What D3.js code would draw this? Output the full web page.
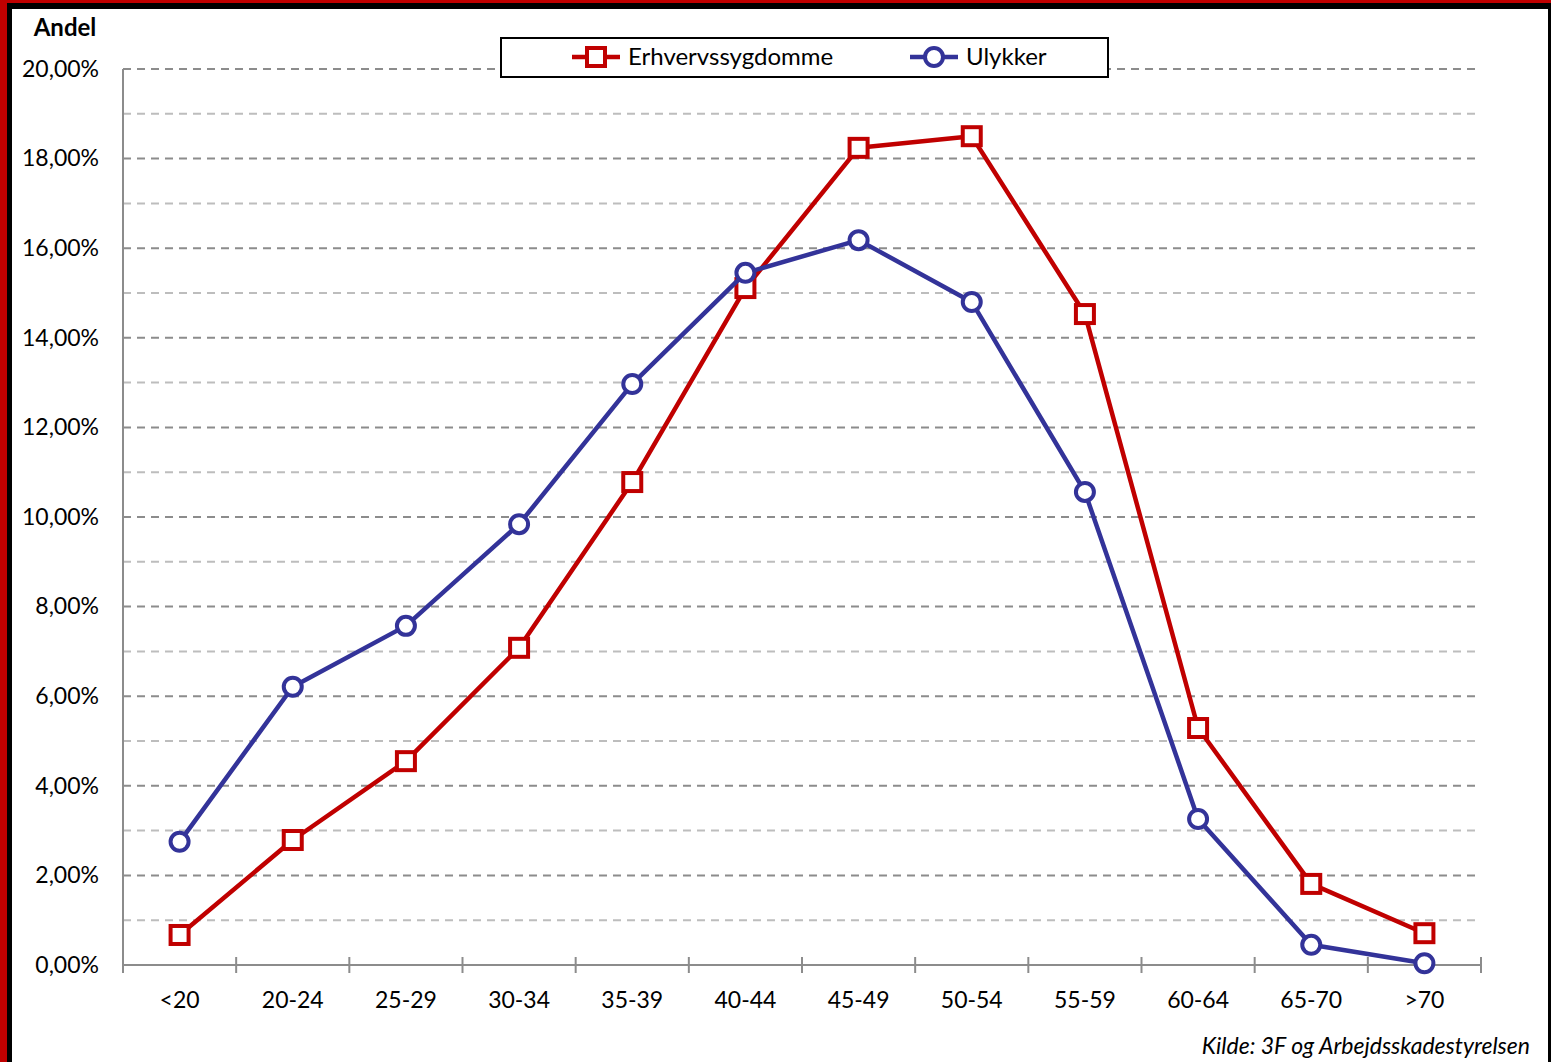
<!DOCTYPE html>
<html lang="da">
<head>
  <meta charset="UTF-8">
  <title>Andel fordelt på alder</title>
  <script src="https://d3js.org/d3.v7.min.js"></script>
  <style>
    body { margin: 0; background: #fff; }
    text { font-family: Lato, "Open Sans", sans-serif; fill: #000; }
  </style>
</head>
<body>
<svg width="1551" height="1062"></svg>
<script>
  const svg = d3.select("svg"),
        width = +svg.attr("width"),
        height = +svg.attr("height");

  // Age groups
  const categories = ["<20", "20-24", "25-29", "30-34", "35-39", "40-44", "45-49", "50-54", "55-59", "60-64", "65-70", ">70"];

  // Share per age group, in percent
  const erhvervssygdomme = [0.67, 2.79, 4.55, 7.08, 10.78, 15.11, 18.24, 18.50, 14.53, 5.29, 1.81, 0.71];
  const ulykker = [2.75, 6.21, 7.57, 9.84, 12.97, 15.45, 16.18, 14.80, 10.56, 3.26, 0.45, 0.04];

  const yTicks = [0, 2, 4, 6, 8, 10, 12, 14, 16, 18, 20];
  const minorTicks = [1, 3, 5, 7, 9, 11, 13, 15, 17, 19];

  const series = [
    { name: "Erhvervssygdomme", values: erhvervssygdomme, color: "#c00000", marker: "square" },
    { name: "Ulykker", values: ulykker, color: "#333399", marker: "circle" }
  ];

  // frame: red outer, black inner, white page
  svg.append("rect").attr("width", width).attr("height", height).attr("fill", "#c00000");
  svg.append("rect").attr("x", 7).attr("y", 3).attr("width", width - 7).attr("height", height).attr("fill", "#000");
  svg.append("rect").attr("x", 12).attr("y", 9).attr("width", 1548 - 12).attr("height", height).attr("fill", "#fff");

  const plot = { left: 123, right: 1481, top: 69, bottom: 965 };

  const x = d3.scaleBand().domain(categories).range([plot.left, plot.right]);
  const y = d3.scaleLinear().domain([0, 20]).range([plot.bottom, plot.top]);

  // gridlines
  svg.append("g").selectAll("line")
    .data(minorTicks)
    .enter().append("line")
      .attr("x1", plot.left).attr("x2", plot.right)
      .attr("y1", d => y(d)).attr("y2", d => y(d))
      .attr("stroke", "#bdbdbd").attr("stroke-width", 2)
      .attr("stroke-dasharray", "8,6");

  svg.append("g").selectAll("line")
    .data(yTicks.filter(d => d > 0))
    .enter().append("line")
      .attr("x1", plot.left).attr("x2", plot.right)
      .attr("y1", d => y(d)).attr("y2", d => y(d))
      .attr("stroke", "#8c8c8c").attr("stroke-width", 2)
      .attr("stroke-dasharray", "8,6");

  // y axis
  const yAxis = svg.append("g")
      .attr("transform", `translate(${plot.left},0)`)
      .call(d3.axisLeft(y).tickValues(yTicks).tickSize(0).tickPadding(24)
        .tickFormat(d => d3.format(".2f")(d).replace(".", ",") + "%"));
  yAxis.select(".domain").attr("stroke", "#8c8c8c").attr("stroke-width", 2)
      .attr("d", `M0,${plot.top}V${plot.bottom + 8}`);
  yAxis.selectAll("text").attr("font-size", 23).attr("font-family", "Lato, sans-serif");

  // x axis
  const boundaries = categories.map(c => x(c)).concat([plot.right]);
  const xg = svg.append("g");
  xg.append("line")
      .attr("x1", plot.left).attr("x2", plot.right)
      .attr("y1", plot.bottom).attr("y2", plot.bottom)
      .attr("stroke", "#8c8c8c").attr("stroke-width", 2);
  xg.selectAll(".tick")
    .data(boundaries.slice(1))
    .enter().append("line")
      .attr("x1", d => d).attr("x2", d => d)
      .attr("y1", plot.bottom - 8).attr("y2", plot.bottom + 8)
      .attr("stroke", "#8c8c8c").attr("stroke-width", 2);
  xg.selectAll("text")
    .data(categories)
    .enter().append("text")
      .attr("x", d => x(d) + x.bandwidth() / 2)
      .attr("y", 1008)
      .attr("text-anchor", "middle")
      .attr("font-size", 23)
      .text(d => d);

  // axis title
  svg.append("text")
      .attr("x", 65).attr("y", 36)
      .attr("text-anchor", "middle")
      .attr("font-size", 24).attr("font-weight", "bold")
      .text("Andel");

  // lines and markers
  const line = d3.line()
      .x((d, i) => x(categories[i]) + x.bandwidth() / 2)
      .y(d => y(d));

  function drawMarker(g, type, cx, cy, color) {
    if (type === "square") {
      g.append("rect")
        .attr("x", cx - 9).attr("y", cy - 9)
        .attr("width", 18).attr("height", 18)
        .attr("fill", "#fff").attr("stroke", color).attr("stroke-width", 4);
    } else {
      g.append("circle")
        .attr("cx", cx).attr("cy", cy).attr("r", 9)
        .attr("fill", "#fff").attr("stroke", color).attr("stroke-width", 4);
    }
  }

  series.forEach(s => {
    const g = svg.append("g");
    g.append("path")
      .datum(s.values)
      .attr("fill", "none")
      .attr("stroke", s.color)
      .attr("stroke-width", 4.5)
      .attr("stroke-linejoin", "round")
      .attr("d", line);
    s.values.forEach((v, i) => {
      drawMarker(g, s.marker, x(categories[i]) + x.bandwidth() / 2, y(v), s.color);
    });
  });

  // legend
  const legend = svg.append("g");
  legend.append("rect")
      .attr("x", 501).attr("y", 38).attr("width", 607).attr("height", 39)
      .attr("fill", "#fff").attr("stroke", "#000").attr("stroke-width", 2);
  const legendX = [572, 910];
  series.forEach((s, i) => {
    const lx = legendX[i], ly = 57;
    legend.append("line")
      .attr("x1", lx).attr("x2", lx + 48)
      .attr("y1", ly).attr("y2", ly)
      .attr("stroke", s.color).attr("stroke-width", 4.5);
    drawMarker(legend, s.marker, lx + 24, ly, s.color);
    legend.append("text")
      .attr("x", lx + 56).attr("y", ly + 8)
      .attr("font-size", 24)
      .text(s.name);
  });

  // source
  svg.append("text")
      .attr("x", 1530).attr("y", 1054)
      .attr("text-anchor", "end")
      .attr("font-size", 23).attr("font-style", "italic")
      .text("Kilde: 3F og Arbejdsskadestyrelsen");
</script>
</body>
</html>
